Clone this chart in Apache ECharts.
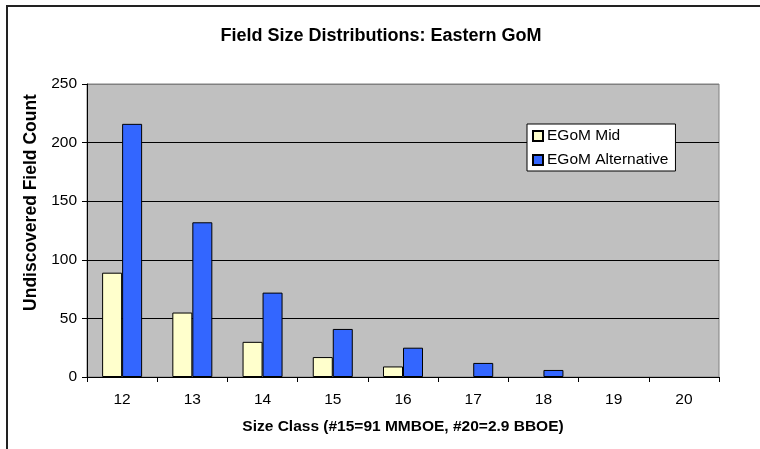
<!DOCTYPE html>
<html>
<head>
<meta charset="utf-8">
<script src="https://cdn.jsdelivr.net/npm/echarts@6/dist/echarts.min.js"></script>
<style>html,body{margin:0;padding:0;background:#fff}#c{width:760px;height:449px}</style>
</head>
<body>
<div id="c"></div>
<script>
var categories = ['12', '13', '14', '15', '16', '17', '18', '19', '20'];
var midValues = [89, 55, 30, 17, 9, 0, 0, 0, 0];
var altValues = [216, 132, 72, 41, 25, 12, 6, 0, 0];
var yTicks = { min: 0, max: 250, interval: 50 };
var seriesNames = ['EGoM Mid', 'EGoM Alternative'];

// zero-count classes draw no bar at all (as in the reference)
function barData(arr) { return arr.map(function (v) { return v === 0 ? null : v; }); }

var FONT = "Arial, 'Liberation Sans', sans-serif";
var chart = echarts.init(document.getElementById('c'), null, { renderer: 'canvas' });
chart.setOption({
  animation: false,
  backgroundColor: '#ffffff',
  textStyle: { fontFamily: FONT, color: '#000' },
  graphic: [{
    type: 'rect', silent: true, z: 100,
    shape: { x: 7, y: 6, width: 800, height: 500 },
    style: { fill: 'none', stroke: '#222', lineWidth: 2 }
  }],
  title: {
    text: 'Field Size Distributions: Eastern GoM',
    left: 381, top: 27, padding: 0, textAlign: 'center',
    textStyle: { fontFamily: FONT, fontSize: 18, fontWeight: 'bold', color: '#000' }
  },
  legend: {
    orient: 'vertical', left: 527, top: 124,
    padding: [4, 7, 3, 5], itemGap: 8, itemWidth: 10, itemHeight: 10,
    backgroundColor: '#fff', borderColor: '#000', borderWidth: 1,
    icon: 'rect',
    textStyle: { fontFamily: FONT, fontSize: 15.5, color: '#000', lineHeight: 16, padding: [0, 0, 0, -1] },
    data: seriesNames
  },
  grid: {
    left: 87, top: 84, right: 41, bottom: 72,
    show: true, backgroundColor: '#C0C0C0', borderColor: '#808080', borderWidth: 1
  },
  xAxis: {
    type: 'category', data: categories, z: 5,
    name: 'Size Class (#15=91 MMBOE, #20=2.9 BBOE)',
    nameLocation: 'middle', nameGap: 42,
    nameTextStyle: { fontFamily: FONT, fontSize: 15.5, fontWeight: 'bold', color: '#000' },
    axisLine: { show: true, lineStyle: { color: '#000', width: 1 } },
    axisTick: { show: true, length: 5, lineStyle: { color: '#000' } },
    axisLabel: { fontFamily: FONT, fontSize: 15.5, color: '#000', margin: 15 },
    splitLine: { show: false }
  },
  yAxis: {
    type: 'value', min: yTicks.min, max: yTicks.max, interval: yTicks.interval,
    name: 'Undiscovered Field Count',
    nameLocation: 'middle', nameGap: 45, nameRotate: 90,
    nameTextStyle: { fontFamily: FONT, fontSize: 17.5, fontWeight: 'bold', color: '#000', padding: [0, 0, 0, 56] },
    axisLine: { show: true, lineStyle: { color: '#000', width: 1 } },
    axisTick: { show: true, length: 5, lineStyle: { color: '#000' } },
    axisLabel: { fontFamily: FONT, fontSize: 15.5, color: '#000', margin: 10 },
    splitLine: { show: true, lineStyle: { color: ['#000', '#000', '#000', '#000', '#000', '#808080'], width: 1 } }
  },
  series: [{
    name: seriesNames[0], type: 'bar', data: barData(midValues),
    barWidth: 20, barGap: '0%',
    itemStyle: { color: '#FFFFCC', borderColor: '#000', borderWidth: 1 }
  }, {
    name: seriesNames[1], type: 'bar', data: barData(altValues),
    barWidth: 20, barGap: '0%',
    itemStyle: { color: '#3366FF', borderColor: '#000', borderWidth: 1 }
  }]
});
</script>
</body>
</html>
